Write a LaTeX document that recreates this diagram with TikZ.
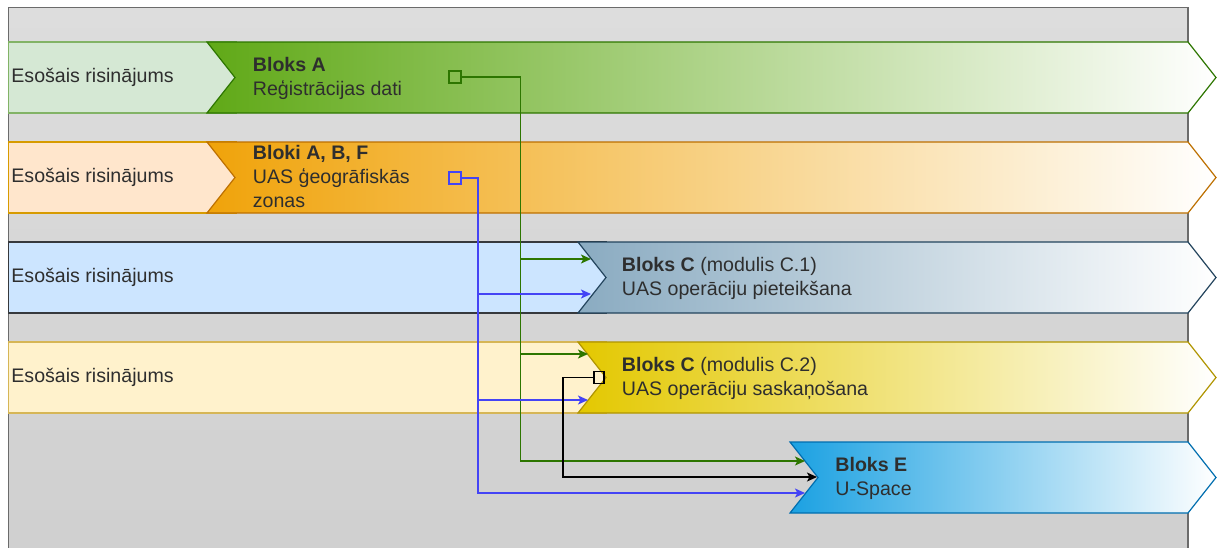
\documentclass[tikz,border=0pt]{standalone}
\usepackage{fontspec}
\setmainfont{Liberation Sans}
\usetikzlibrary{arrows.meta}
\definecolor{bgtop}{HTML}{DDDDDD}
\definecolor{bgbot}{HTML}{CFCFCF}
\definecolor{txtgray}{HTML}{2E2E2E}
\definecolor{lgreen}{HTML}{D5E8D4}\definecolor{lgreenS}{HTML}{82B366}
\definecolor{lorange}{HTML}{FFE6CC}\definecolor{lorangeS}{HTML}{D79B00}
\definecolor{lblue}{HTML}{CCE5FF}\definecolor{lblueS}{HTML}{36393D}
\definecolor{lyellow}{HTML}{FFF2CC}\definecolor{lyellowS}{HTML}{D6B656}
\definecolor{cgreen}{HTML}{60A917}\definecolor{sgreen}{HTML}{2D7600}
\definecolor{corange}{HTML}{F0A30A}\definecolor{sorange}{HTML}{BD7000}
\definecolor{csteel}{HTML}{8AABC1}\definecolor{ssteel}{HTML}{23445D}
\definecolor{cyellow}{HTML}{E3C800}\definecolor{syellow}{HTML}{B09500}
\definecolor{ccyan}{HTML}{1BA1E2}\definecolor{scyan}{HTML}{006EAF}
\definecolor{lnblue}{HTML}{4444F5}
\def\chevron[#1](#2:#3){\draw[#1] (#2,#3) -- (1188,#3) -- (1216,#3+35.5) -- (1188,#3+71) -- (#2,#3+71) -- (#2+28,#3+35.5) -- cycle;}

\begin{document}
\begin{tikzpicture}[x=0.5pt, y=-0.5pt,
		txt/.style={anchor=west, inner sep=0pt, align=left, text=txtgray, font=\fontsize{9.8pt}{12pt}\selectfont},
		port/.style={draw=#1, line width=0.65pt, minimum size=6pt, inner sep=0pt},
		flow/.style={draw=#1, line width=0.65pt, -{Stealth[length=5pt, width=4.5pt, inset=1.2pt]}}]
			%%%%% START %%%%%
			
			\clip (0,0) rectangle (1221,547);
			\draw[draw=black!58, line width=0.6pt, top color=bgtop, bottom color=bgbot] (8.5,7.5) rectangle (1188,570);
			
			\draw[draw=lgreenS, fill=lgreen, line width=0.6pt] (8.5,42) rectangle (236,113);
			\draw[draw=lorangeS, fill=lorange, line width=0.6pt] (8.5,142) rectangle (236,213);
			\draw[draw=lblueS, fill=lblue, line width=0.6pt] (8.5,242) rectangle (606,313);
			\draw[draw=lyellowS, fill=lyellow, line width=0.6pt] (8.5,342) rectangle (606,413);
			
			\chevron[draw=sgreen, line width=0.6pt, left color=cgreen, right color=white](207:42)
			\chevron[draw=sorange, line width=0.6pt, left color=corange, right color=white](207:142)
			\chevron[draw=ssteel, line width=0.6pt, left color=csteel, right color=white](578:242)
			\chevron[draw=syellow, line width=0.6pt, left color=cyellow, right color=white](578:342)
			\chevron[draw=scyan, line width=0.6pt, left color=ccyan, right color=white](790:442)
			
			\node[txt] (curA) at (11,77.5) {Esošais risinājums};
			\node[txt] (curF) at (11,177.5) {Esošais risinājums};
			\node[txt] (curC1) at (11,277.5) {Esošais risinājums};
			\node[txt] (curC2) at (11,377.5) {Esošais risinājums};
			
			\node[txt] (blkA) at (252.5,78) {\textbf{Bloks A}\\Reģistrācijas dati};
			\node[txt] (blkF) at (252.5,176.5) {\textbf{Bloki A, B, F}\\UAS ģeogrāfiskās\\zonas};
			\node[txt] (blkC1) at (621.5,278) {\textbf{Bloks C} (modulis C.1)\\UAS operāciju pieteikšana};
			\node[txt] (blkC2) at (621.5,378) {\textbf{Bloks C} (modulis C.2)\\UAS operāciju saskaņošana};
			\node[txt] (blkE) at (835,478) {\textbf{Bloks E}\\U-Space};
			
			\node[port=sgreen] (portA) at (455,77) {};
			\node[port=lnblue] (portF) at (455,178) {};
			\node[port=black, minimum width=5pt] (portC2) at (599,377.5) {};
			
			\coordinate (jA) at (520.5,77);
			\coordinate (jF) at (478,178);
			\coordinate (jC2) at (563,377.5);
			\coordinate (inC1a) at (591,259);
			\coordinate (inC1b) at (591,294);
			\coordinate (inC2a) at (588,354);
			\coordinate (inC2b) at (588,400);
			\coordinate (inEa) at (805,461);
			\coordinate (inEb) at (817,477);
			\coordinate (inEc) at (805,493);
			
			\draw[flow=sgreen] (portA) -- (jA) |- (inC1a);
			\draw[flow=sgreen] (jA) |- (inC2a);
			\draw[flow=sgreen] (jA) |- (inEa);
			
			\draw[flow=lnblue] (portF) -- (jF) |- (inC1b);
			\draw[flow=lnblue] (jF) |- (inC2b);
			\draw[flow=lnblue] (jF) |- (inEc);
			
			\draw[flow=black] (portC2) -- (jC2) |- (inEb);
			
			%%%%% END %%%%%
\end{tikzpicture}
\end{document}
